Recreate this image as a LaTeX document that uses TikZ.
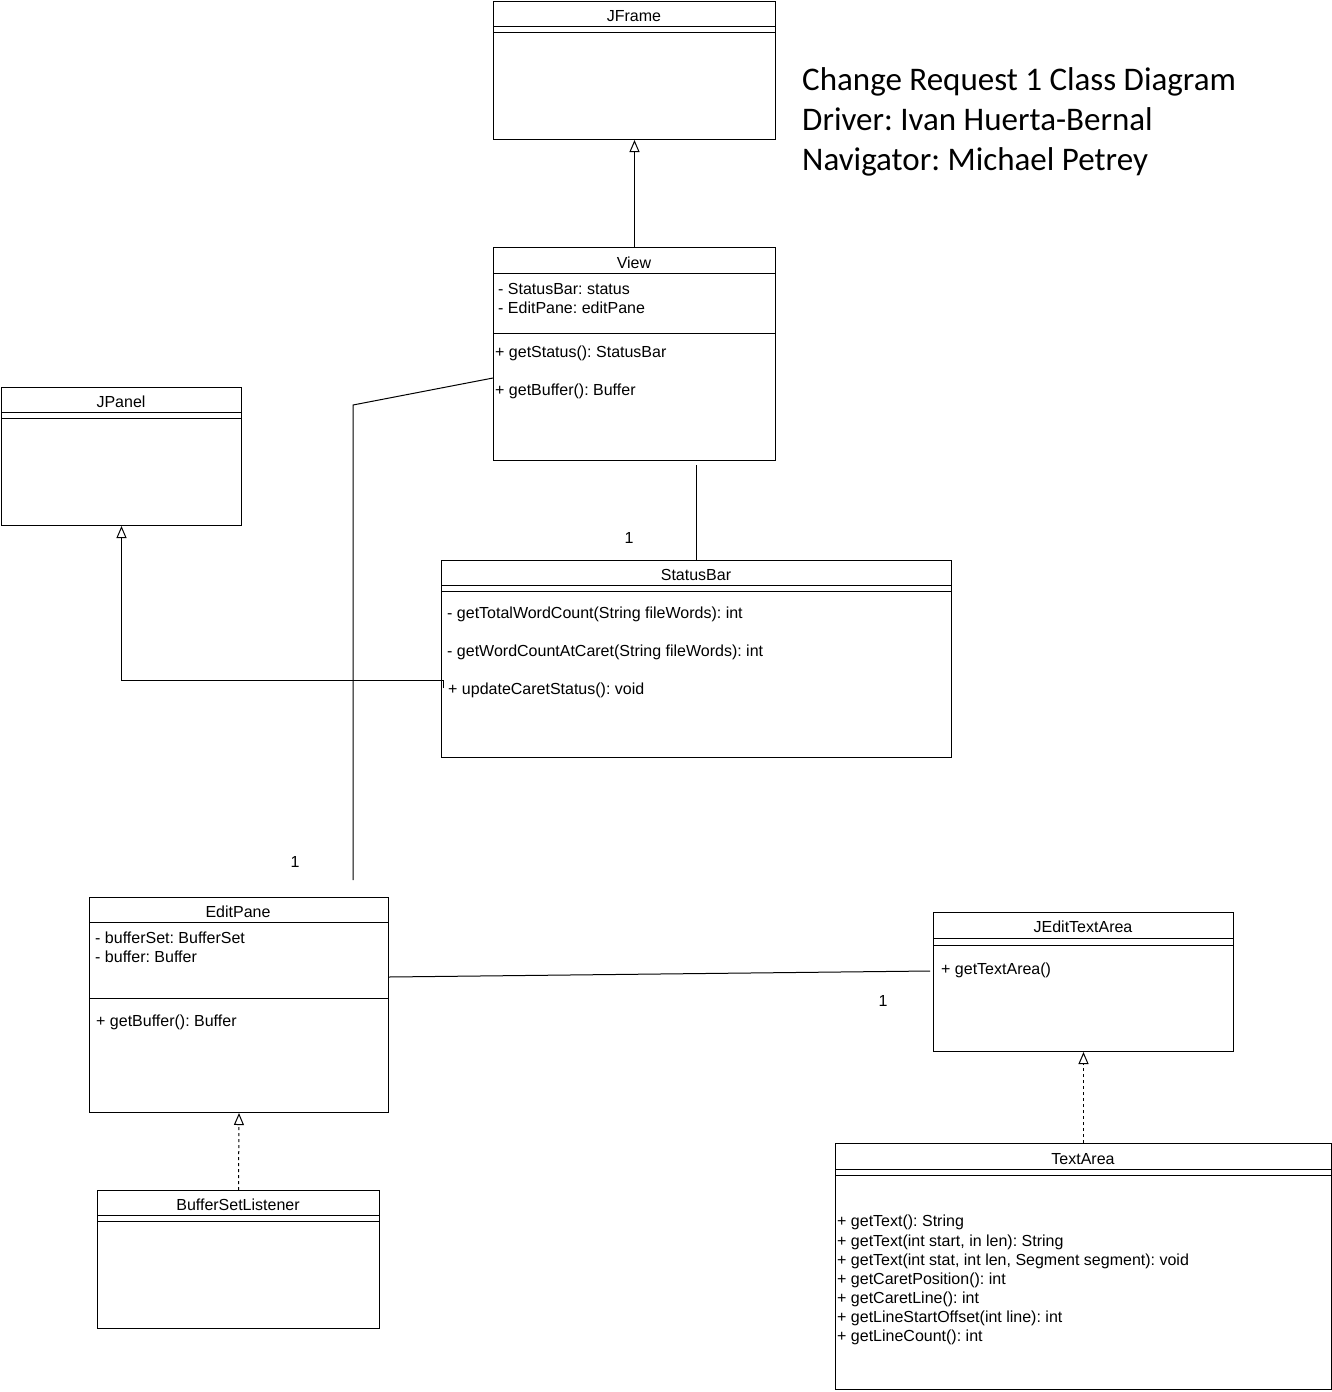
\documentclass[tikz,border=0pt]{standalone}
\usepackage{fontspec}
\setmainfont{Liberation Sans}
\newfontfamily\titlefont{Carlito}
\usetikzlibrary{arrows.meta,calc}
\frenchspacing
\begin{document}
\begin{tikzpicture}[x=1pt,y=-1pt,
 cls/.style={draw,line width=1pt,inner sep=0pt,anchor=north west},
 lbl/.style={inner sep=0pt,anchor=base,font=\fontsize{16}{19}\selectfont},
 mem/.style={lbl,anchor=base west},
 conn/.style={line width=1pt},
 inh/.style={conn,-{Triangle[open,length=12pt,width=10pt]}},
 realz/.style={inh,dash pattern=on 3pt off 3pt},
 ttl/.style={inner sep=0pt,anchor=base west,font=\titlefont\fontsize{33}{40}\selectfont}]
\fill[white] (0,0) rectangle (1332,1392);
\useasboundingbox (0,0) rectangle (1332,1392);

% ---------- JFrame
\node[cls,minimum width=282pt,minimum height=138pt] (jframe) at (493,1) {};
\draw[conn] ([yshift=-25pt]jframe.north west) -- ([yshift=-25pt]jframe.north east);
\draw[conn] ([yshift=-31pt]jframe.north west) -- ([yshift=-31pt]jframe.north east);
\node[lbl] (jframeN) at (634,21) {JFrame};

% ---------- View
\node[cls,minimum width=282pt,minimum height=213pt] (view) at (493,247) {};
\draw[conn] ([yshift=-26pt]view.north west) -- ([yshift=-26pt]view.north east);
\draw[conn] ([yshift=-86pt]view.north west) -- ([yshift=-86pt]view.north east);
\node[lbl] (viewN) at (634,268) {View};
\node[mem] (viewA1) at (498,294) {- StatusBar: status};
\node[mem] (viewA2) at (498,313) {- EditPane: editPane};
\node[mem] (viewM1) at (495,357) {+ getStatus(): StatusBar};
\node[mem] (viewM2) at (495,395) {+ getBuffer(): Buffer};

% ---------- JPanel
\node[cls,minimum width=240pt,minimum height=138pt] (jpanel) at (1,387) {};
\draw[conn] ([yshift=-25pt]jpanel.north west) -- ([yshift=-25pt]jpanel.north east);
\draw[conn] ([yshift=-31pt]jpanel.north west) -- ([yshift=-31pt]jpanel.north east);
\node[lbl] (jpanelN) at (121,407) {JPanel};

% ---------- StatusBar
\node[cls,minimum width=510pt,minimum height=197pt] (statusbar) at (441,560) {};
\draw[conn] ([yshift=-25pt]statusbar.north west) -- ([yshift=-25pt]statusbar.north east);
\draw[conn] ([yshift=-31pt]statusbar.north west) -- ([yshift=-31pt]statusbar.north east);
\node[lbl] (statusbarN) at (696,580) {StatusBar};
\node[mem] (sbM1) at (447,618) {- getTotalWordCount(String fileWords): int};
\node[mem] (sbM2) at (447,656) {- getWordCountAtCaret(String fileWords): int};
\node[mem] (sbM3) at (448,694) {+ updateCaretStatus(): void};

% ---------- EditPane
\node[cls,minimum width=299pt,minimum height=215pt] (editpane) at (89,897) {};
\draw[conn] ([yshift=-25pt]editpane.north west) -- ([yshift=-25pt]editpane.north east);
\draw[conn] ([yshift=-101pt]editpane.north west) -- ([yshift=-101pt]editpane.north east);
\node[lbl] (editpaneN) at (238,917) {EditPane};
\node[mem] (epA1) at (95,943) {- bufferSet: BufferSet};
\node[mem] (epA2) at (95,962) {- buffer: Buffer};
\node[mem] (epM1) at (96,1026) {+ getBuffer(): Buffer};

% ---------- JEditTextArea
\node[cls,minimum width=300pt,minimum height=139pt] (jedit) at (933,912) {};
\draw[conn] ([yshift=-26pt]jedit.north west) -- ([yshift=-26pt]jedit.north east);
\draw[conn] ([yshift=-33pt]jedit.north west) -- ([yshift=-33pt]jedit.north east);
\node[lbl] (jeditN) at (1083,932) {JEditTextArea};
\node[mem] (jeM1) at (941,974) {+ getTextArea()};

% ---------- TextArea
\node[cls,minimum width=496pt,minimum height=246pt] (textarea) at (835,1143) {};
\draw[conn] ([yshift=-26pt]textarea.north west) -- ([yshift=-26pt]textarea.north east);
\draw[conn] ([yshift=-32pt]textarea.north west) -- ([yshift=-32pt]textarea.north east);
\node[lbl] (textareaN) at (1083,1164) {TextArea};
\node[mem] (taM1) at (837,1226) {+ getText(): String};
\node[mem] (taM2) at (837,1246) {+ getText(int start, in len): String};
\node[mem] (taM3) at (837,1265) {+ getText(int stat, int len, Segment segment): void};
\node[mem] (taM4) at (837,1284) {+ getCaretPosition(): int};
\node[mem] (taM5) at (837,1303) {+ getCaretLine(): int};
\node[mem] (taM6) at (837,1322) {+ getLineStartOffset(int line): int};
\node[mem] (taM7) at (837,1341) {+ getLineCount(): int};

% ---------- BufferSetListener
\node[cls,minimum width=282pt,minimum height=138pt] (bsl) at (97,1190) {};
\draw[conn] ([yshift=-25pt]bsl.north west) -- ([yshift=-25pt]bsl.north east);
\draw[conn] ([yshift=-31pt]bsl.north west) -- ([yshift=-31pt]bsl.north east);
\node[lbl] (bslN) at (238,1210) {BufferSetListener};

% ---------- title
\node[ttl] (t1) at (802,90) {Change Request 1 Class Diagram};
\node[ttl] (t2) at (802,130) {Driver: Ivan Huerta-Bernal};
\node[ttl] (t3) at (802,170) {Navigator: Michael Petrey};

% ---------- connectors
\draw[inh] (view.north) -- (jframe.south);
\draw[conn,shorten >=4pt] (statusbar.north) -- (statusbar.north |- view.south);
\node[lbl] (m1) at (629,543) {1};

\coordinate (epEnd) at (353,880);
\draw[conn] ($(view.north west)+(0,131)$) -- (353,405) -- (epEnd);
\node[lbl] (m2) at (295,867) {1};

\draw[inh] ($(statusbar.north west)+(2,128)$) -- ++(0,-8) -| (jpanel.south);

\draw[conn] ($(editpane.north east)+(0,80)$) -- ($(jedit.north west)+(-3,59)$);
\node[lbl] (m3) at (883,1006) {1};

\draw[realz] (bsl.north) -- (editpane.south);
\draw[realz] (textarea.north) -- (jedit.south);
\end{tikzpicture}
\end{document}
